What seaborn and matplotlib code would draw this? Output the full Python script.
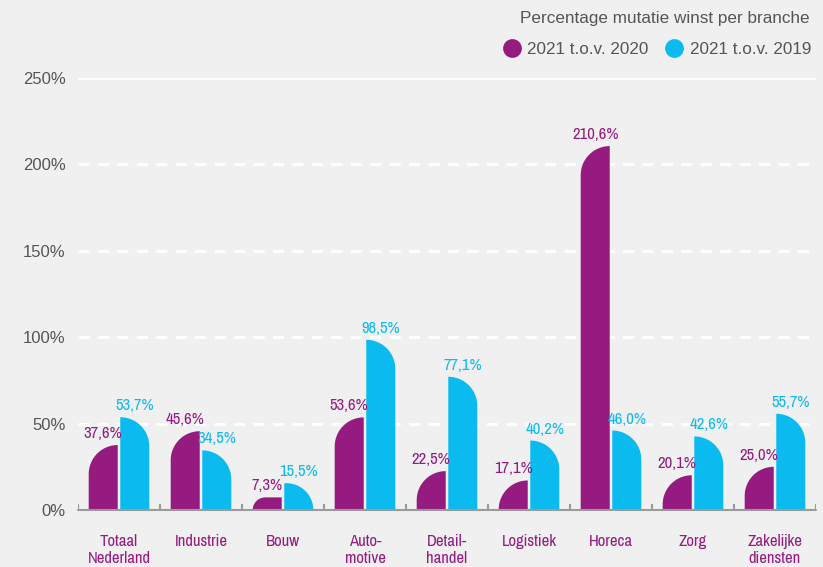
import numpy as np
import pandas as pd
import matplotlib
matplotlib.use("Agg")
import matplotlib.pyplot as plt
import seaborn as sns
from matplotlib.path import Path
from matplotlib.patches import PathPatch
from matplotlib.lines import Line2D

categories = ["Totaal\nNederland", "Industrie", "Bouw", "Auto-\nmotive", "Detail-\nhandel",
              "Logistiek", "Horeca", "Zorg", "Zakelijke\ndiensten"]
series_names = ["2021 t.o.v. 2020", "2021 t.o.v. 2019"]
vals_2020 = [37.6, 45.6, 7.3, 53.6, 22.5, 17.1, 210.6, 20.1, 25.0]
vals_2019 = [53.7, 34.5, 15.5, 98.5, 77.1, 40.2, 46.0, 42.6, 55.7]
yticks = [0, 50, 100, 150, 200, 250]
ytick_labels = ["0%", "50%", "100%", "150%", "200%", "250%"]
legend_title = "Percentage mutatie winst per branche"

PURPLE = "#951b81"
CYAN = "#0bbbef"
BG = "#f0f0f0"
GRAY = "#555555"
colors = [PURPLE, CYAN]

df = pd.DataFrame({
    "cat": categories * 2,
    "serie": [series_names[0]] * 9 + [series_names[1]] * 9,
    "val": vals_2020 + vals_2019,
})

sns.set_theme(style="white")
plt.rcParams["font.family"] = ["Liberation Sans", "DejaVu Sans"]
NARROW = ["Archivo Narrow", "DejaVu Sans"]

W, H = 823, 567
fig = plt.figure(figsize=(W / 100, H / 100), dpi=100, facecolor=BG)
ax = fig.add_axes([78 / W, 57 / H, (816 - 78) / W, (510 - 78) / H])
ax.set_facecolor(BG)

sns.barplot(data=df, x="cat", y="val", hue="serie", palette=colors, width=0.77, gap=0.08,
            order=categories, hue_order=series_names, saturation=1, legend=False, ax=ax)
ax.set_xlim(-0.5, 8.5)
ax.set_ylim(0, 250)

# px per data unit
px_x = (816 - 78) / 9.0
px_y = (510 - 78) / 250.0

# replace bars by rounded-corner versions
patches = list(ax.patches)
for p in patches:
    x0, y0 = p.get_x(), p.get_y()
    w, h = p.get_width(), p.get_height()
    fc = p.get_facecolor()
    if h <= 0:
        continue
    is_left = np.allclose(fc[:3], matplotlib.colors.to_rgb(PURPLE), atol=0.02)
    r_px = min(w * px_x, h * px_y)
    rx = r_px / px_x
    ry = r_px / px_y
    t = np.linspace(0, np.pi / 2, 30)
    x1 = x0 + w
    y1 = y0 + h
    if is_left:
        cx, cy = x0 + rx, y1 - ry
        arc = [(cx - rx * np.cos(a), cy + ry * np.sin(a)) for a in t]
        verts = [(x0, y0), (x1, y0), (x1, y1)] + arc[::-1] + [(x0, y0)]
    else:
        cx, cy = x1 - rx, y1 - ry
        arc = [(cx + rx * np.sin(a), cy + ry * np.cos(a)) for a in t]
        verts = [(x0, y0), (x1, y0)] + arc[::-1] + [(x0, y1), (x0, y0)]
    codes = [Path.MOVETO] + [Path.LINETO] * (len(verts) - 2) + [Path.CLOSEPOLY]
    pp = PathPatch(Path(verts, codes), facecolor=fc, edgecolor="none", zorder=3)
    p.remove()
    ax.add_patch(pp)
    ax.text(x0 + w / 2, y1 + 4 / px_y, f"{h:.1f}%".replace(".", ","), ha="center", va="bottom",
            fontsize=12, color=PURPLE if is_left else CYAN, family=NARROW, zorder=4)

# grid lines
for yv in yticks[1:]:
    if yv == 250:
        ax.axhline(yv, color="white", lw=2, zorder=1)
    else:
        ax.axhline(yv, color="white", lw=2, ls=(0, (4, 3)), zorder=1)

# baseline and group ticks
ax.axhline(0, color="#9a9a9a", lw=1.5, zorder=5, clip_on=False)
ax.vlines(np.arange(-0.5, 9.0, 1.0), 0, 6 / px_y, color="#9a9a9a", lw=1.5, zorder=5)

for s in ax.spines.values():
    s.set_visible(False)
ax.set_yticks(yticks)
ax.set_yticklabels(ytick_labels, color=GRAY, fontsize=12)
ax.tick_params(axis="y", length=0, pad=9)
ax.set_xticks(range(9))
ax.set_xticklabels(categories, color=PURPLE, fontsize=12, family=NARROW, linespacing=1.2)
ax.tick_params(axis="x", length=0, pad=17)
ax.set_xlabel("")
ax.set_ylabel("")

fig.text(810 / W, 1 - 18 / H, legend_title, ha="right", va="center", color=GRAY, fontsize=12.3)
handles = [Line2D([], [], marker="o", ls="", color=c, markersize=12.5) for c in colors]
leg = fig.legend(handles, series_names, ncol=2, loc="center right",
                 bbox_to_anchor=(811 / W, 1 - 49 / H), frameon=False,
                 fontsize=12.3, handletextpad=0.15, columnspacing=0.75,
                 handlelength=1.5, labelcolor=GRAY, borderaxespad=0, borderpad=0)

fig.savefig("out.png", dpi=100, facecolor=BG)
